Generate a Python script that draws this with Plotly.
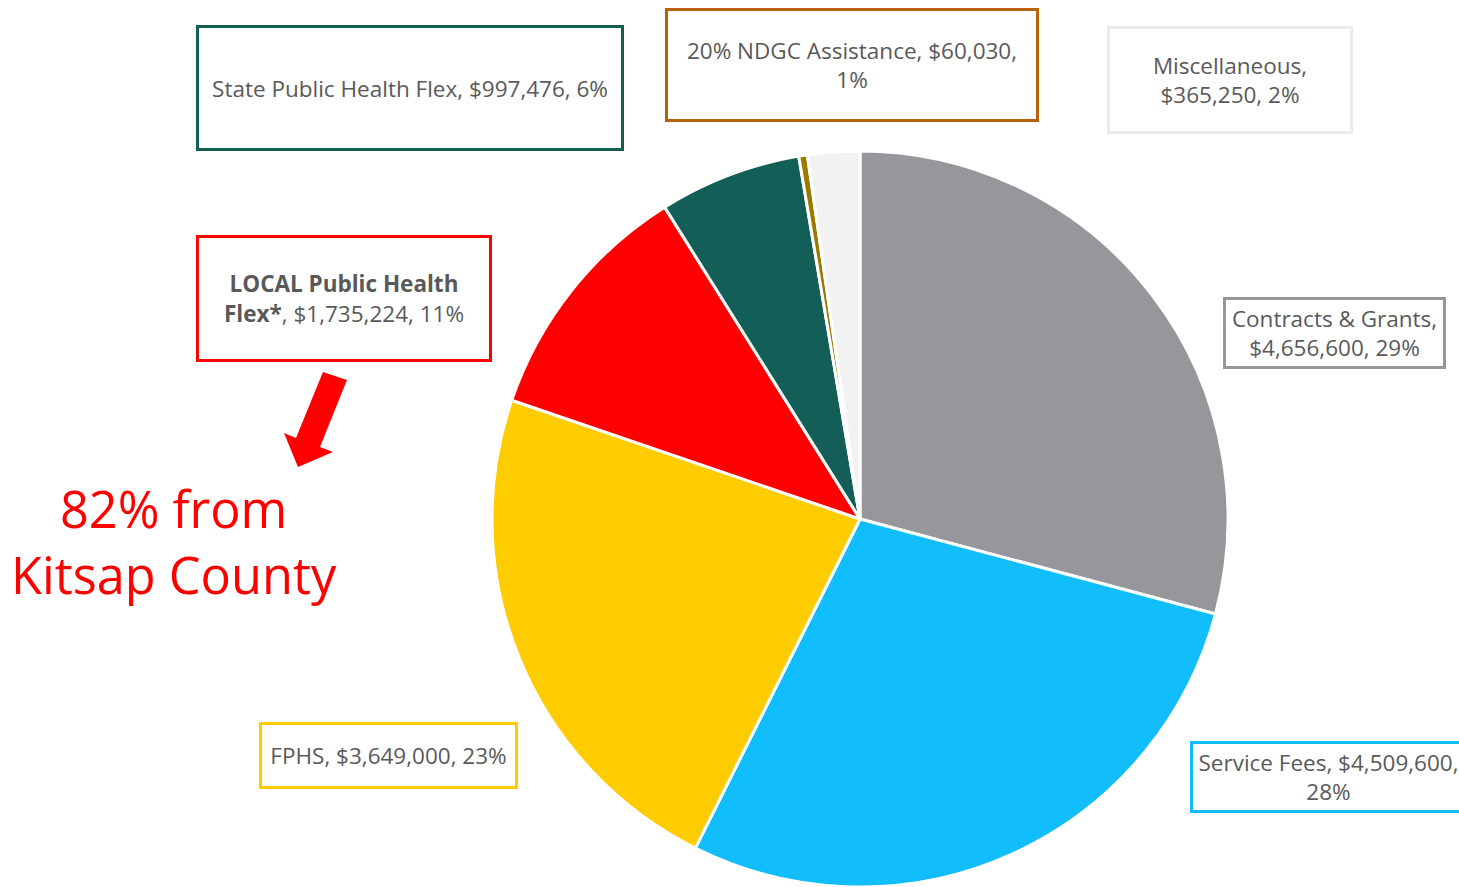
import plotly.graph_objects as go

W, H = 1459, 887

categories = ["Contracts & Grants", "Service Fees", "FPHS", "LOCAL Public Health Flex*",
              "State Public Health Flex", "20% NDGC Assistance", "Miscellaneous"]
values = [4656600, 4509600, 3649000, 1735224, 997476, 60030, 365250]
percent_labels = ["29%", "28%", "23%", "11%", "6%", "1%", "2%"]
slice_colors = ["#97979B", "#12BDFC", "#FFCC00", "#FF0000", "#135F57", "#9C7A00", "#F2F2F2"]
border_colors = ["#97979B", "#12BDFC", "#FFCC00", "#FF0000", "#135F57", "#B8620A", "#EBEBEB"]

label_texts = [
    "Contracts & Grants,<br>$4,656,600, 29%",
    "Service Fees, $4,509,600,<br>28%",
    "FPHS, $3,649,000, 23%",
    "<b>LOCAL Public Health</b><br><b>Flex*</b>, $1,735,224, 11%",
    "State Public Health Flex, $997,476, 6%",
    "20% NDGC Assistance, $60,030,<br>1%",
    "Miscellaneous,<br>$365,250, 2%",
]
# label boxes in pixels: (left, top, right, bottom)
label_boxes = [
    (1223, 297, 1446, 369),
    (1190, 741, 1467, 813),
    (259, 722, 518, 789),
    (196, 235, 492, 362),
    (196, 25, 624, 151),
    (665, 8, 1039, 122),
    (1107, 26, 1353, 134),
]

cx, cy, r = 860, 519, 368

fig = go.Figure()
fig.add_trace(go.Pie(
    labels=categories,
    values=values,
    sort=False,
    direction="clockwise",
    rotation=0,
    marker=dict(colors=slice_colors, line=dict(color="white", width=3)),
    textinfo="none",
    showlegend=False,
    domain=dict(x=[(cx - r) / W, (cx + r) / W], y=[(H - cy - r) / H, (H - cy + r) / H]),
))

annotations = []
for txt, box, bc in zip(label_texts, label_boxes, border_colors):
    l, t, rr, b = box
    annotations.append(dict(
        x=(l + rr) / 2 / W, y=1 - (t + b) / 2 / H, xref="paper", yref="paper",
        xanchor="center", yanchor="middle",
        text=txt, showarrow=False,
        font=dict(family="Open Sans", size=22.5, color="#595959"),
        width=rr - l - 6, height=b - t - 6, align="center", valign="middle",
        bordercolor=bc, borderwidth=3, borderpad=0, bgcolor="white",
    ))

annotations.append(dict(
    x=174 / W, y=1 - 541 / H, xref="paper", yref="paper",
    xanchor="center", yanchor="middle",
    text="82% from<br>Kitsap County", showarrow=False,
    font=dict(family="Open Sans", size=50.5, color="#FF0000"), align="center",
))

arrow_pts = [(323, 372), (347, 380), (320, 447), (333, 452), (298, 467), (284, 433), (296, 438)]
path = "M " + " L ".join(f"{x / W:.5f},{1 - y / H:.5f}" for x, y in arrow_pts) + " Z"

fig.update_layout(
    width=W, height=H,
    margin=dict(l=0, r=0, t=0, b=0),
    paper_bgcolor="white", plot_bgcolor="white",
    annotations=annotations,
    shapes=[dict(type="path", path=path, xref="paper", yref="paper",
                 fillcolor="#FF0000", line=dict(width=0))],
)

fig.write_html("out.html")
